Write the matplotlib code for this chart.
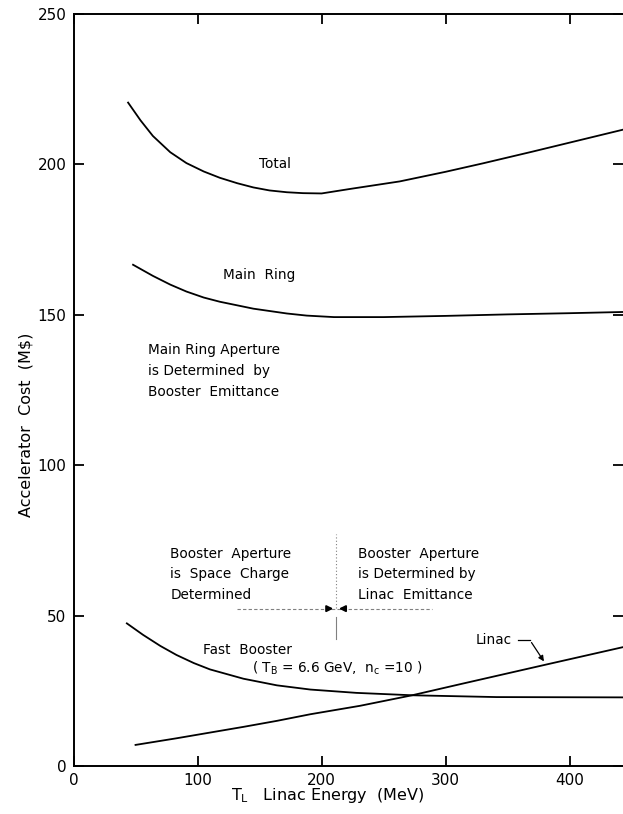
import numpy as np
import matplotlib
matplotlib.use('Agg')
import matplotlib.pyplot as plt

# values (MeV, M$)
energy_total = [44, 54, 64, 78, 91, 105, 118, 132, 145, 158, 172, 185, 200, 223, 263, 300, 330, 370, 411, 443]
cost_total = [220.5, 214.6, 209.4, 204.0, 200.4, 197.6, 195.5, 193.7, 192.3, 191.3, 190.7, 190.4, 190.3,
              191.8, 194.3, 197.5, 200.3, 204.2, 208.3, 211.5]

energy_ring = [48, 64, 78, 91, 105, 118, 145, 172, 188, 210, 250, 300, 350, 400, 443]
cost_ring = [166.6, 162.9, 160.0, 157.7, 155.7, 154.3, 152.0, 150.4, 149.7, 149.2, 149.2, 149.6, 150.1, 150.5, 150.9]

energy_booster = [43, 56, 70, 83, 97, 110, 137, 164, 191, 228, 273, 341, 443]
cost_booster = [47.4, 43.6, 39.9, 36.9, 34.2, 32.1, 29.0, 26.8, 25.4, 24.3, 23.5, 22.9, 22.8]

energy_linac = [50, 83, 110, 137, 164, 191, 231, 273, 314, 382, 443]
cost_linac = [7, 9.2, 11.1, 13.0, 15.0, 17.2, 20.0, 23.5, 27.4, 33.8, 39.5]

xticks = [0, 100, 200, 300, 400]
yticks = [0, 50, 100, 150, 200, 250]
E_split = 211.7   # boundary between the two booster aperture regimes

fig = plt.figure(figsize=(6.23, 8.14), dpi=100)
ax = fig.add_axes([0.118, 0.059, 0.882, 0.924])

for e, c in [(energy_total, cost_total), (energy_ring, cost_ring),
             (energy_booster, cost_booster), (energy_linac, cost_linac)]:
    ax.plot(e, c, color='black', lw=1.3)

ax.set_xlim(0, 443)
ax.set_ylim(0, 250)
ax.set_xticks(xticks)
ax.set_yticks(yticks)
ax.spines['right'].set_visible(False)
for s in ['left', 'bottom', 'top']:
    ax.spines[s].set_linewidth(1.4)
ax.tick_params(direction='in', top=True, right=True, length=7, width=1.3,
               labelsize=11, pad=5)

ax.set_xlabel(r'$\mathrm{T_L}$   Linac Energy  (MeV)', fontsize=11.5)
ax.xaxis.set_label_coords(0.463, -0.027)
ax.set_ylabel('Accelerator  Cost  (M$)', fontsize=11.5)
ax.yaxis.set_label_coords(-0.072, 0.453)

tk = dict(fontsize=9.8, color='black')
ax.text(162.5, 200, 'Total', ha='center', va='center', **tk)
ax.text(150, 163.3, 'Main  Ring', ha='center', va='center', **tk)
ax.text(60.4, 131.3, 'Main Ring Aperture\nis Determined  by\nBooster  Emittance',
        ha='left', va='center', linespacing=1.6, **tk)
ax.text(78, 63.7, 'Booster  Aperture\nis  Space  Charge\nDetermined',
        ha='left', va='center', linespacing=1.6, **tk)
ax.text(229.4, 63.7, 'Booster  Aperture\nis Determined by\nLinac  Emittance',
        ha='left', va='center', linespacing=1.6, **tk)
ax.text(104.6, 38.7, 'Fast  Booster', ha='left', va='center', **tk)
ax.text(143.7, 32.3, r'( $\mathrm{T_B}$ = 6.6 GeV,  $\mathrm{n_c}$ =10 )',
        ha='left', va='center', **tk)
ax.text(324, 41.9, 'Linac', ha='left', va='center', **tk)

# regime boundary
ax.plot([E_split, E_split], [52.5, 77], color='gray', lw=0.8, ls=(0, (1, 2)))
ax.plot([E_split, E_split], [42.3, 49.6], color='gray', lw=0.8)
ax.plot([131.6, 289], [52.3, 52.3], color='gray', lw=0.8, ls=(0, (3, 2)))
ax.annotate('', xy=(E_split, 52.3), xytext=(202.5, 52.3),
            arrowprops=dict(arrowstyle='-|>', color='black', lw=1.4, mutation_scale=9))
ax.annotate('', xy=(E_split, 52.3), xytext=(220.5, 52.3),
            arrowprops=dict(arrowstyle='-|>', color='black', lw=1.4, mutation_scale=9))

# Linac leader
ax.plot([358.7, 368], [41.8, 41.8], color='black', lw=0.9)
ax.annotate('', xy=(380.5, 34.0), xytext=(368, 41.8),
            arrowprops=dict(arrowstyle='-|>', color='black', lw=0.9, mutation_scale=8))

plt.savefig('out.png', dpi=100)
